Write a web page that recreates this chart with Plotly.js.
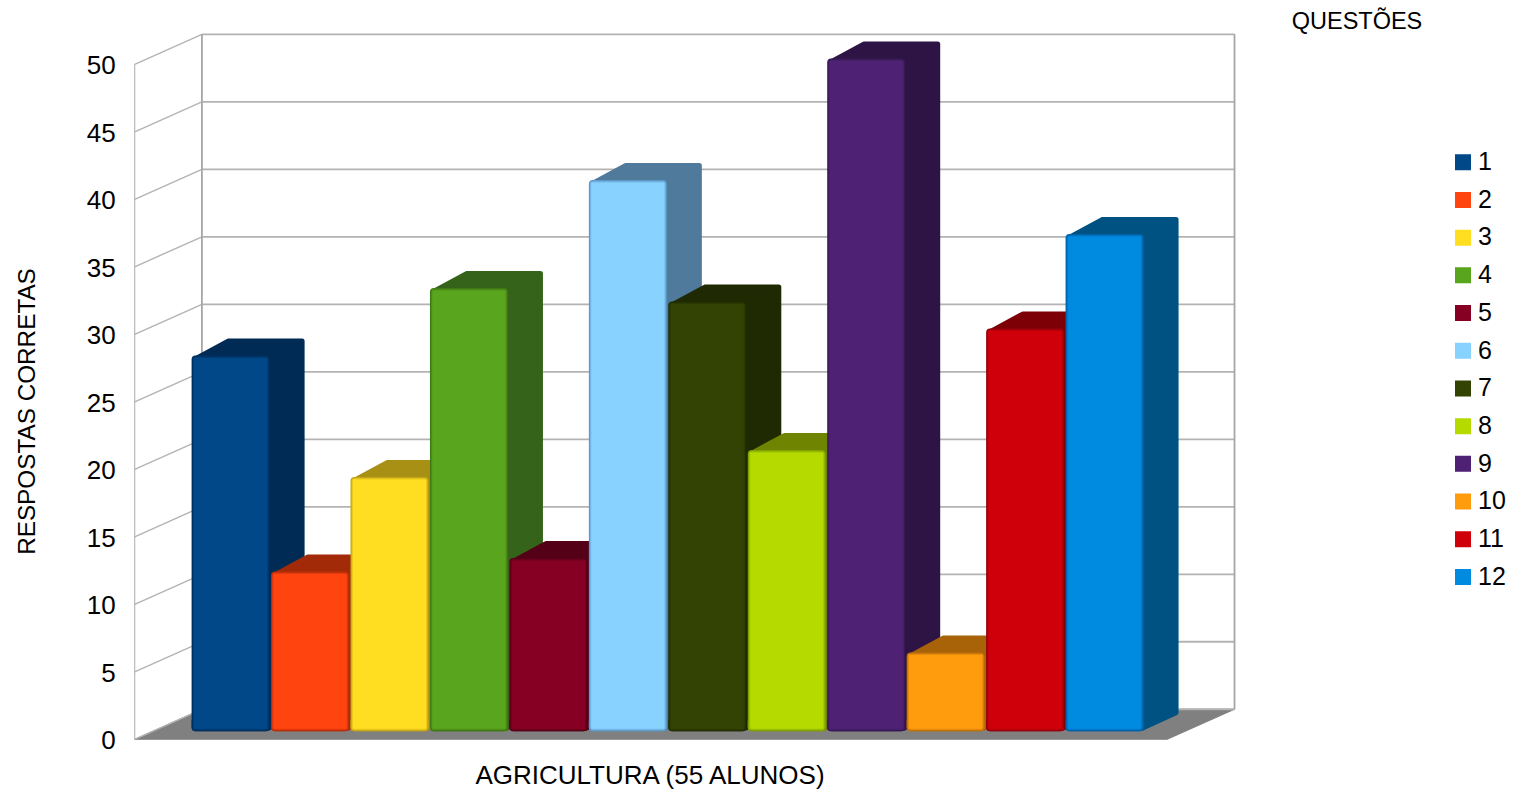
<!DOCTYPE html>
<html>
<head>
<meta charset="utf-8">
<script src="https://cdn.plot.ly/plotly-3.0.1.min.js"></script>
<style>html,body{margin:0;padding:0;background:#fff}#chart{width:1514px;height:793px}
.scatterlayer .js-line{stroke-linejoin:round}</style>
</head>
<body>
<div id="chart"></div>
<script>
// ---- data ----
const questions = ['1','2','3','4','5','6','7','8','9','10','11','12'];
const correctAnswers = [28, 12, 19, 33, 13, 41, 32, 21, 50, 6, 30, 37];
const tickValues = [0, 5, 10, 15, 20, 25, 30, 35, 40, 45, 50];
const xTitle = 'AGRICULTURA (55 ALUNOS)';
const yTitle = 'RESPOSTAS CORRETAS';
const legendTitle = 'QUESTÕES';

// ---- style ----
const frontColors = ['#004888','#ff4410','#ffdd20','#5aa51e','#850022','#88d2ff','#334304','#b4da00','#4e2174','#ff9c0e','#d0000b','#008ae0'];
const sideColors  = ['#002b55','#a32a08','#a89014','#35631a','#540017','#507a9c','#1f2902','#6f8400','#2e1444','#a86208','#7e0007','#005282'];
const rimColors   = ['#00305e','#b93008','#c2a716','#3f7a14','#5a0018','#5c9ac8','#232e02','#82a000','#371852','#c0720a','#98000a','#0062a8'];
const midColors   = ['#003d74','#e23a0c','#eac81c','#4e9119','#70001e','#76b8e8','#2c3a03','#9cc000','#44206a','#e68a0c','#b60009','#0078c8'];
const FONT = 'Liberation Sans, Arial, sans-serif';
const PX_X = 79.45, PX_Y = 13.5;           // pixels per category slot / per answer
const WALL_DX = 67.2 / PX_X, WALL_DV = 30 / PX_Y;
const BAR_DX = 34 / PX_X, BAR_DV = 16 / PX_Y;
const BAR_W = 78 / PX_X;
const BAR_BOTTOM = 0.6, BAR_LIFT = 0.42;
const EDGE_R = 2.5;                        // rounding of the side faces, px
const FRONT_X = [-0.207, 12.79];           // front edge of the floor
const X_RANGE = [-1.1095, 13.667], Y_RANGE = [-3.98, 52.54];

const barTop = v => v + BAR_LIFT;
const traces = [];
const noHover = {hoverinfo: 'skip', showlegend: false};

// floor
traces.push({type:'scatter', mode:'lines', fill:'toself', fillcolor:'#808080', line:{color:'#808080', width:1}, ...noHover,
  x:[FRONT_X[0], FRONT_X[1], FRONT_X[1]+WALL_DX, FRONT_X[0]+WALL_DX, FRONT_X[0]],
  y:[0, 0, WALL_DV, WALL_DV, 0]});

// walls: diagonals on the side wall, horizontals on the back wall
const diagX = [], diagY = [], backX = [], backY = [];
tickValues.forEach(t => {
  diagX.push(FRONT_X[0], FRONT_X[0]+WALL_DX, null);
  diagY.push(t, t+WALL_DV, null);
  backX.push(FRONT_X[0]+WALL_DX, FRONT_X[1]+WALL_DX, null);
  backY.push(t+WALL_DV, t+WALL_DV, null);
});
const tMax = tickValues[tickValues.length-1];
traces.push({type:'scatter', mode:'lines', x:diagX, y:diagY, line:{color:'#b3b3b3', width:1.4}, ...noHover});
traces.push({type:'scatter', mode:'lines', x:backX, y:backY, line:{color:'#b3b3b3', width:1.8}, ...noHover});
traces.push({type:'scatter', mode:'lines', x:[FRONT_X[0],FRONT_X[0]], y:[0,tMax], line:{color:'#b3b3b3', width:1.1}, ...noHover});
traces.push({type:'scatter', mode:'lines', x:[FRONT_X[0]+WALL_DX,FRONT_X[0]+WALL_DX], y:[WALL_DV,tMax+WALL_DV], line:{color:'#a6a6a6', width:1.8}, ...noHover});
traces.push({type:'scatter', mode:'lines', x:[FRONT_X[1]+WALL_DX,FRONT_X[1]+WALL_DX], y:[WALL_DV,tMax+WALL_DV], line:{color:'#a6a6a6', width:1.8}, ...noHover});

// top + side face of each bar, painted left to right; the thick round-joined outline rounds the corners
correctAnswers.forEach((v,i) => {
  const c = i+1, ex = EDGE_R/PX_X, ev = EDGE_R/PX_Y;
  const L = c-BAR_W/2, R = c+BAR_W/2, T = barTop(v), B = BAR_BOTTOM;
  const xBack = R+BAR_DX+1/PX_X-ex, yBack = T+BAR_DV+1/PX_Y-ev;
  traces.push({type:'scatter', mode:'lines', fill:'toself', fillcolor:sideColors[i], line:{color:sideColors[i], width:EDGE_R*2}, ...noHover,
    x:[R-ex, R-ex+BAR_DX+1/PX_X, xBack, L+BAR_DX+ex, L+2*ex, R-ex, R-ex],
    y:[B+ev, B+ev+BAR_DV, yBack, yBack, T-ev, T-ev, B+ev]});
});

// front faces (overlay subplot, above all side faces)
const frontBar = (i, insetPx, color, radius) => {
  const v = correctAnswers[i];
  const dv = insetPx / PX_Y;
  const w = BAR_W - 2*insetPx/PX_X;
  return {type:'bar', x:[i+1], y:[barTop(v)-dv-BAR_BOTTOM-dv], base:[BAR_BOTTOM+dv], width:[w],
    xaxis:'x2', yaxis:'y2', marker:{color, cornerradius:radius, line:{width:0}}, ...noHover};
};
correctAnswers.forEach((v,i) => {
  // rim: upper part rounded at the top, lower part rounded at the bottom
  traces.push(frontBar(i, 0, rimColors[i], 4));
  traces.push({type:'bar', x:[i+1], y:[-1], base:[BAR_BOTTOM+1], width:[BAR_W], xaxis:'x2', yaxis:'y2',
    marker:{color:rimColors[i], cornerradius:4, line:{width:0}}, ...noHover});
  traces.push(frontBar(i, 1.2, midColors[i], 3));
  // inner face carries the legend entry; its 4px same-colour line makes the 16px swatch
  const t = frontBar(i, 4.4, frontColors[i], 0);
  t.marker.line = {width:4, color:frontColors[i]};
  t.name = questions[i];
  t.showlegend = true;
  t.legendgroup = 'q'+questions[i];
  traces.push(t);
});

const layout = {
  width:1514, height:793, autosize:false,
  margin:{l:63, r:1514-1237, t:30, b:0, pad:0},
  paper_bgcolor:'#fff', plot_bgcolor:'rgba(0,0,0,0)',
  font:{family:FONT, size:25, color:'#000'},
  barmode:'overlay',
  showlegend:true,
  title:{text:legendTitle, font:{family:FONT, size:23.5, color:'#000'}, x:1357/1514, xanchor:'center', xref:'container', y:1-21/793, yanchor:'middle', yref:'container'},
  xaxis:{range:X_RANGE, anchor:'free', position:(793-759.3)/763, showgrid:false, zeroline:false, showline:false, showticklabels:false, ticks:'', automargin:false,
    title:{text:xTitle, font:{family:FONT, size:26, color:'#000'}, standoff:6}},
  yaxis:{range:Y_RANGE, anchor:'free', position:(134.7-63)/1174, showgrid:false, zeroline:false, showline:false, ticks:'', automargin:false,
    tickmode:'array', tickvals:tickValues, ticktext:tickValues.map(String), ticklabelstandoff:19,
    tickfont:{family:FONT, size:26, color:'#000'},
    title:{text:yTitle, font:{family:FONT, size:24.3, color:'#000'}, standoff:43}},
  xaxis2:{range:X_RANGE, overlaying:'x', visible:false},
  yaxis2:{range:Y_RANGE, overlaying:'y', visible:false},
  legend:{x:1438/1514, xref:'container', xanchor:'left', y:1-137.5/793, yref:'container', yanchor:'top', maxheight:700,
    font:{family:FONT, size:25, color:'#000'}, tracegroupgap:2.2, bgcolor:'rgba(0,0,0,0)', borderwidth:0, itemclick:false, itemdoubleclick:false}
};
Plotly.newPlot('chart', traces, layout, {displayModeBar:false, responsive:false}).then(() => {
  document.querySelectorAll('.legendsymbols').forEach(g => g.setAttribute('transform','translate(5,2)'));
  document.querySelectorAll('.ytick text').forEach(t => t.setAttribute('dy','1'));
});
</script>
</body>
</html>
